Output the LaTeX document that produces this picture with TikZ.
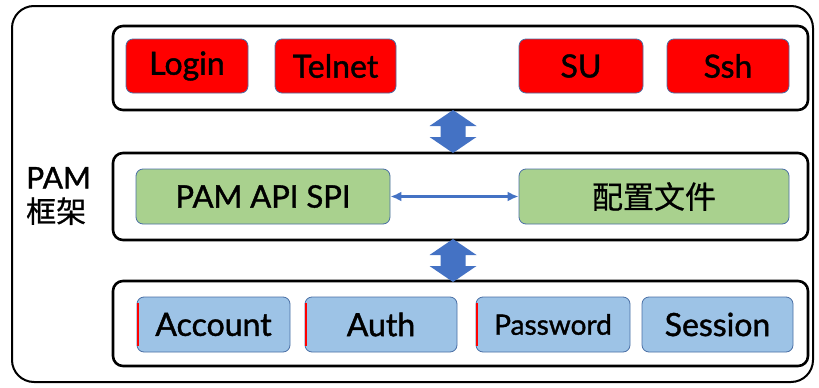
\documentclass[tikz,border=0pt]{standalone}
\usepackage{fontspec}
\setmainfont{Lato}[FakeBold=1.3]
\newfontfamily\cjk{Noto Sans CJK SC}[FakeBold=0.6]
\usetikzlibrary{arrows.meta,calc}
\definecolor{edgeblue}{HTML}{4A6FA5}
\definecolor{arrowblue}{HTML}{4472C4}
\definecolor{appred}{HTML}{FF0000}
\definecolor{apigreen}{HTML}{A9D18E}
\definecolor{modblue}{HTML}{9DC3E6}
\tikzset{
  layer/.style={draw=black, line width=2.6pt, rounded corners=10pt, fill=white},
  box/.style={draw=edgeblue, line width=0.8pt, rounded corners=7pt, inner sep=0pt,
    font=\fontsize{32}{34}\selectfont, text=black},
  appbox/.style={box, fill=appred, minimum height=54pt},
  apibox/.style={box, fill=apigreen, minimum height=55pt},
  modbox/.style={box, fill=modblue, minimum height=55pt},
  redmark/.style={draw=appred, line width=1.8pt},
  dblarrow/.pic={
    \fill[arrowblue] (0,-21.5) -- (23.5,-5.5) -- (12.5,-5.5) -- (12.5,5.5) -- (23.5,5.5)
      -- (0,21.5) -- (-23.5,5.5) -- (-12.5,5.5) -- (-12.5,-5.5) -- (-23.5,-5.5) -- cycle;
  }
}
\begin{document}
\begin{tikzpicture}[x=1pt,y=-1pt]
\useasboundingbox (0,0) rectangle (819,388);
% outer frame
\draw[line width=2pt, rounded corners=22pt] (12,6) rectangle (813,382);
\node[font=\fontsize{30}{34}\selectfont, align=left, inner sep=0pt, anchor=west] (title) at (26,196)
  {PAM\\{\cjk 框架}};
% three layers
\draw[layer] (113,26) rectangle (808,110);
\coordinate (l1s) at (453,110);
\draw[layer] (113,153) rectangle (808,240);
\coordinate (l2n) at (453,153);
\coordinate (l2s) at (453,240);
\draw[layer] (113,281) rectangle (808,366);
\coordinate (l3n) at (453,281);
% applications
\node[appbox, minimum width=122pt] (login) at (187,66) {Login};
\node[appbox, minimum width=121pt] (telnet) at (335.5,66) {Telnet};
\node[appbox, minimum width=124pt] (su) at (581,66) {SU};
\node[appbox, minimum width=122pt] (ssh) at (728,66) {Ssh};
% interface layer
\node[apibox, minimum width=254pt, font=\fontsize{31}{33}\selectfont] (api) at (263,196.5) {PAM API SPI};
\node[apibox, minimum width=270pt, font=\fontsize{31}{33}\selectfont] (cfg) at (654,196.5) {\cjk 配置文件};
\draw[arrowblue, line width=2.6pt, {Latex[length=11pt,width=10pt]}-{Latex[length=11pt,width=10pt]}]
  (api.east) -- (cfg.west);
% modules
\node[modbox, minimum width=153pt] (account) at (213.5,324.5) {Account};
\node[modbox, minimum width=152pt] (auth) at (381,324.5) {Auth};
\node[modbox, minimum width=154pt, font=\fontsize{28}{30}\selectfont] (password) at (553,324.5) {Password};
\node[modbox, minimum width=151pt] (session) at (717.5,324.5) {Session};
% red traces along the left edges of three module boxes
\draw[redmark] ($(account.north west)+(1.2,6)$) -- ($(account.south west)+(1.2,-6)$);
\draw[redmark] ($(auth.north west)+(1.2,6)$) -- ($(auth.south west)+(1.2,-6)$);
\draw[redmark] ($(password.north west)+(1.2,6)$) -- ($(password.south west)+(1.2,-6)$);
% block arrows between layers
\pic at ($(l1s)!0.5!(l2n)$) {dblarrow};
\pic at ($(l2s)!0.5!(l3n)$) {dblarrow};
\end{tikzpicture}
\end{document}
